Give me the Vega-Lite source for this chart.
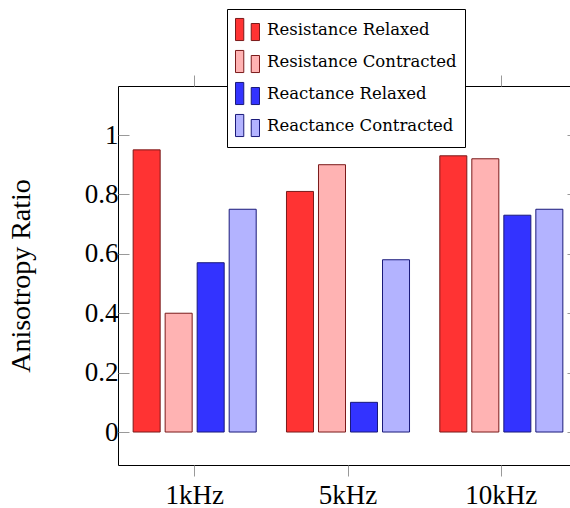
{
  "$schema": "https://vega.github.io/schema/vega-lite/v6.json",
  "width": 460,
  "height": 379,
  "autosize": {"type": "none"},
  "padding": {"left": 118, "top": 86, "right": 0, "bottom": 43},
  "background": "white",
  "config": {
    "view": {"stroke": "#000000", "strokeWidth": 1},
    "axis": {"grid": false, "domain": false, "labelFont": "Liberation Serif", "labelFontSize": 27, "labelColor": "#000000", "titleFont": "Liberation Serif", "titleFontSize": 28, "titleFontWeight": "normal", "titleColor": "#000000", "tickColor": "#999999", "tickWidth": 1},
    "legend": {"labelFont": "DejaVu Serif"}
  },
  "data": {
    "values": [
      {"freq": "1kHz", "series": "Resistance Relaxed", "value": 0.95},
      {"freq": "1kHz", "series": "Resistance Contracted", "value": 0.40},
      {"freq": "1kHz", "series": "Reactance Relaxed", "value": 0.57},
      {"freq": "1kHz", "series": "Reactance Contracted", "value": 0.75},
      {"freq": "5kHz", "series": "Resistance Relaxed", "value": 0.81},
      {"freq": "5kHz", "series": "Resistance Contracted", "value": 0.90},
      {"freq": "5kHz", "series": "Reactance Relaxed", "value": 0.10},
      {"freq": "5kHz", "series": "Reactance Contracted", "value": 0.58},
      {"freq": "10kHz", "series": "Resistance Relaxed", "value": 0.93},
      {"freq": "10kHz", "series": "Resistance Contracted", "value": 0.92},
      {"freq": "10kHz", "series": "Reactance Relaxed", "value": 0.73},
      {"freq": "10kHz", "series": "Reactance Contracted", "value": 0.75}
    ]
  },
  "layer": [
    {
      "mark": {"type": "bar", "strokeWidth": 1, "fillOpacity": 1},
      "encoding": {
        "x": {"field": "freq", "type": "nominal", "sort": ["1kHz", "5kHz", "10kHz"],
          "scale": {"paddingInner": 0, "paddingOuter": 0},
          "axis": {"orient": "bottom", "title": null, "labelAngle": 0, "tickSize": 11, "labelPadding": 6, "labelFont": "Liberation Serif"}},
        "xOffset": {"field": "series", "type": "nominal",
          "sort": ["Resistance Relaxed", "Resistance Contracted", "Reactance Relaxed", "Reactance Contracted"],
          "scale": {"paddingInner": 0.156, "paddingOuter": 0.473}},
        "y": {"field": "value", "type": "quantitative",
          "scale": {"domain": [-0.111, 1.165], "nice": false, "zero": false},
          "axis": {"orient": "left", "title": "Anisotropy Ratio", "titleFont": "Liberation Serif", "titleFontSize": 28, "titleFontWeight": "normal", "labelFont": "Liberation Serif", "values": [0, 0.2, 0.4, 0.6, 0.8, 1], "format": "~g", "tickSize": -11, "labelPadding": 11, "titlePadding": 49}},
        "fill": {"field": "series", "type": "nominal",
          "sort": ["Resistance Relaxed", "Resistance Contracted", "Reactance Relaxed", "Reactance Contracted"],
          "scale": {"domain": ["Resistance Relaxed", "Resistance Contracted", "Reactance Relaxed", "Reactance Contracted"], "range": ["#ff3333", "#ffb3b3", "#3333ff", "#b3b3ff"]},
          "legend": {"title": null, "orient": "none", "legendX": 109, "legendY": -77,
            "symbolType": "M-1,-0.92H-0.31V0.92H-1Z M0.31,-0.5H1V0.92H0.31Z", "symbolSize": 576, "symbolStrokeWidth": 1,
            "labelFont": "DejaVu Serif", "labelFontSize": 16.5, "labelColor": "#000000", "labelOffset": 7,
            "rowPadding": 5, "padding": 8, "strokeColor": "#000000", "fillColor": "#ffffff", "cornerRadius": 0, "labelLimit": 400}},
        "stroke": {"field": "series", "type": "nominal",
          "scale": {"domain": ["Resistance Relaxed", "Resistance Contracted", "Reactance Relaxed", "Reactance Contracted"], "range": ["#7a1a1a", "#7a1a1a", "#1a1a7a", "#1a1a7a"]},
          "legend": null}
      }
    },
    {
      "mark": {"type": "bar", "opacity": 0},
      "encoding": {
        "x": {"field": "freq", "type": "nominal", "sort": ["1kHz", "5kHz", "10kHz"],
          "axis": {"orient": "top", "title": null, "labels": false, "tickSize": 11}},
        "xOffset": {"field": "series", "type": "nominal",
          "sort": ["Resistance Relaxed", "Resistance Contracted", "Reactance Relaxed", "Reactance Contracted"]},
        "y": {"field": "value", "type": "quantitative",
          "axis": {"orient": "right", "title": null, "labels": false, "values": [0, 0.2, 0.4, 0.6, 0.8, 1], "tickSize": -11}}
      }
    }
  ],
  "resolve": {"axis": {"x": "independent", "y": "independent"}}
}
